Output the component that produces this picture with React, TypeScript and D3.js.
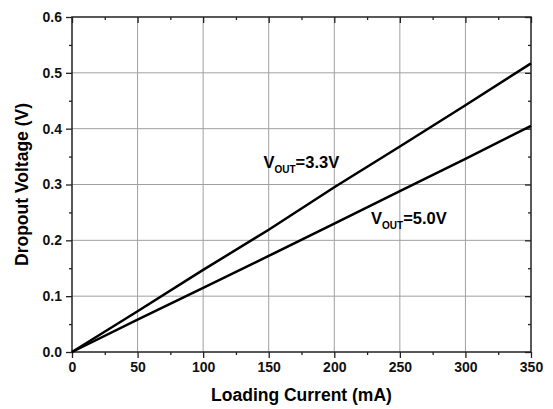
import React, { useEffect, useRef } from 'react';
import * as d3 from 'd3';

const current = [0, 50, 100, 150, 200, 250, 300, 350];
const v33 = [0, 0.073, 0.147, 0.219, 0.295, 0.368, 0.442, 0.517];
const v50 = [0, 0.058, 0.115, 0.172, 0.23, 0.288, 0.346, 0.405];
const xTicks = [0, 50, 100, 150, 200, 250, 300, 350];
const yTicks = [0, 0.1, 0.2, 0.3, 0.4, 0.5, 0.6];

const W = 553;
const H = 409;
const FONT = '"Liberation Sans", Arial, sans-serif';

const App: React.FC = () => {
  const svgRef = useRef<SVGSVGElement>(null);

  useEffect(() => {
    if (!svgRef.current) return;
    const svg = d3.select(svgRef.current);
    svg.selectAll('*').remove();

    const margin = { top: 17, right: 22, bottom: 57, left: 72 };
    const iw = W - margin.left - margin.right;
    const ih = H - margin.top - margin.bottom;

    const x = d3.scaleLinear().domain([0, 350]).range([0, iw]);
    const y = d3.scaleLinear().domain([0, 0.6]).range([ih, 0]);

    const g = svg.append('g').attr('transform', `translate(${margin.left},${margin.top})`);

    // grid
    g.append('g')
      .selectAll('line')
      .data(xTicks.slice(1, -1))
      .join('line')
      .attr('x1', d => x(d)).attr('x2', d => x(d))
      .attr('y1', 0).attr('y2', ih)
      .attr('stroke', '#a0a0a0').attr('stroke-width', 1);
    g.append('g')
      .selectAll('line')
      .data(yTicks.slice(1, -1))
      .join('line')
      .attr('x1', 0).attr('x2', iw)
      .attr('y1', d => y(d)).attr('y2', d => y(d))
      .attr('stroke', '#a0a0a0').attr('stroke-width', 1);

    const minorX = d3.range(25, 350, 50);
    const minorY = d3.range(0.05, 0.6, 0.1);

    const styleAxis = (sel: any) => {
      sel.select('.domain').remove();
      sel.selectAll('line').attr('stroke', '#222').attr('stroke-width', 1.3);
      sel.selectAll('text')
        .attr('font-family', FONT)
        .attr('font-weight', 'bold')
        .attr('font-size', 14)
        .attr('fill', '#111');
    };

    // bottom
    g.append('g').attr('transform', `translate(0,${ih})`)
      .call(d3.axisBottom(x).tickValues(xTicks).tickSize(6).tickPadding(4).tickFormat(d3.format('d')))
      .call(styleAxis);
    g.append('g').attr('transform', `translate(0,${ih})`)
      .call(d3.axisBottom(x).tickValues(minorX).tickSize(3).tickFormat(() => ''))
      .call(styleAxis);
    // left
    g.append('g')
      .call(d3.axisLeft(y).tickValues(yTicks).tickSize(6).tickPadding(4).tickFormat(d3.format('.1f')))
      .call(styleAxis);
    g.append('g')
      .call(d3.axisLeft(y).tickValues(minorY).tickSize(3).tickFormat(() => ''))
      .call(styleAxis);
    // top (inside ticks)
    g.append('g')
      .call(d3.axisTop(x).tickValues(xTicks).tickSize(-6).tickFormat(() => ''))
      .call(styleAxis);
    g.append('g')
      .call(d3.axisTop(x).tickValues(minorX).tickSize(-3).tickFormat(() => ''))
      .call(styleAxis);
    // right (inside ticks)
    g.append('g').attr('transform', `translate(${iw},0)`)
      .call(d3.axisRight(y).tickValues(yTicks).tickSize(-6).tickFormat(() => ''))
      .call(styleAxis);
    g.append('g').attr('transform', `translate(${iw},0)`)
      .call(d3.axisRight(y).tickValues(minorY).tickSize(-3).tickFormat(() => ''))
      .call(styleAxis);

    // frame
    g.append('rect')
      .attr('x', 0).attr('y', 0).attr('width', iw).attr('height', ih)
      .attr('fill', 'none').attr('stroke', '#222').attr('stroke-width', 1.5);

    const line = d3.line<number>()
      .x((_, i) => x(current[i]))
      .y(d => y(d));

    [v33, v50].forEach(series => {
      g.append('path')
        .datum(series)
        .attr('d', line)
        .attr('fill', 'none')
        .attr('stroke', '#000')
        .attr('stroke-width', 2.5);
    });

    // labels
    const addLabel = (cx: number, cy: number, val: string) => {
      const t = g.append('text')
        .attr('x', x(cx)).attr('y', y(cy))
        .attr('font-family', FONT).attr('font-weight', 'bold')
        .attr('font-size', 16.5).attr('fill', '#000');
      t.append('tspan').text('V');
      t.append('tspan').attr('font-size', 10).attr('dy', 5).text('OUT');
      t.append('tspan').attr('dy', -5).text(`=${val}`);
    };
    addLabel(146, 0.329, '3.3V');
    addLabel(228, 0.229, '5.0V');

    // axis titles
    svg.append('text')
      .attr('x', margin.left + iw / 2).attr('y', H - 8)
      .attr('text-anchor', 'middle')
      .attr('font-family', FONT).attr('font-weight', 'bold').attr('font-size', 17.5)
      .text('Loading Current (mA)');
    svg.append('text')
      .attr('transform', `translate(28,${margin.top + ih / 2}) rotate(-90)`)
      .attr('text-anchor', 'middle')
      .attr('font-family', FONT).attr('font-weight', 'bold').attr('font-size', 17.5)
      .text('Dropout Voltage (V)');
  }, []);

  return (
    <svg
      ref={svgRef}
      width={W}
      height={H}
      style={{ display: 'block', position: 'absolute', left: 0, top: 0, background: '#fff' }}
    />
  );
};

export default App;
